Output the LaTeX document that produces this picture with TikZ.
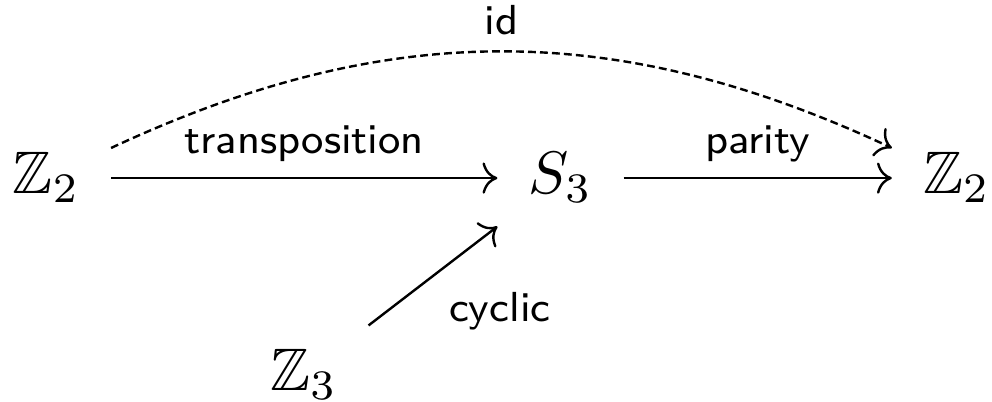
\documentclass[tikz,border=0pt]{standalone}
\usepackage{amssymb}
\usetikzlibrary{arrows.meta}

\begin{document}
\begin{tikzpicture}[
    group/.style={inner sep=5pt, text height=6pt, text depth=1pt},
    map/.style={->, >={Computer Modern Rightarrow}},
    maplabel/.style={font=\sffamily\scriptsize, inner sep=2.5pt},
]

% Fix the margins
\useasboundingbox (-0.272,-1.306) rectangle (5.539,1.043);

% Define groups (nodes)
\node[group] (z2a) at (0,0) {$\mathbb{Z}_2$};
\node[group] (s3) at (3.011,0) {$S_3$};
\node[group] (z2b) at (5.331,0) {$\mathbb{Z}_2$};
\node[group] (z3) at (1.508,-1.154) {$\mathbb{Z}_3$};

% Define maps (edges) with their names
\draw[map] (z2a) -- node[midway, above, maplabel] {transposition} (s3);
\draw[map] (s3) -- node[midway, above, maplabel] {parity} (z2b);
\draw[map] (z3) -- node[midway, below right, maplabel] {cyclic} (s3);
\draw[map, dash pattern=on 1.3pt off 0.7pt] (z2a) to[bend left=25] node[midway, above, maplabel] {id} (z2b);

\end{tikzpicture}
\end{document}
